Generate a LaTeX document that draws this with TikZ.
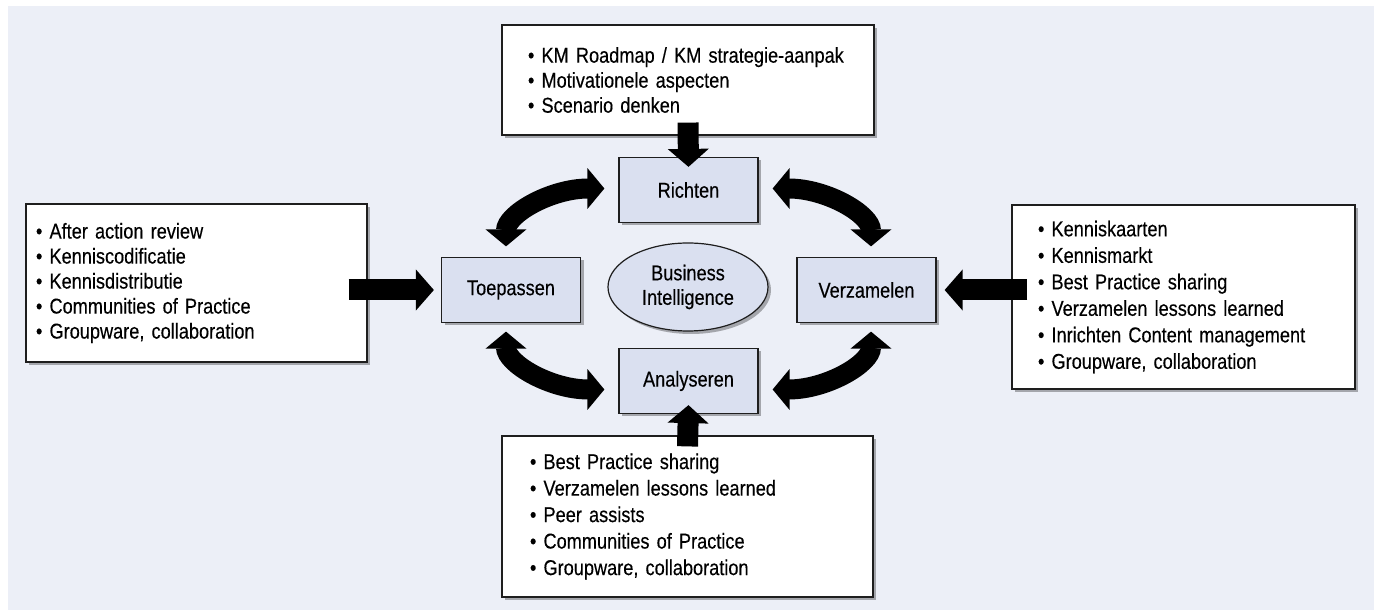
\documentclass[tikz,border=0pt]{standalone}
\usepackage{fontspec}
\setmainfont{Liberation Sans}[FakeStretch=0.845,FakeBold=0.3]
\usetikzlibrary{arrows.meta,shadows,shapes.geometric,calc}

\definecolor{bgblue}{RGB}{236,239,247}
\definecolor{phasefill}{RGB}{218,224,240}
\definecolor{linegray}{RGB}{30,30,30}

\tikzset{
  boxshadow/.style={drop shadow={shadow xshift=3pt,shadow yshift=-3pt,opacity=0.3,fill=black}},
  phase/.style={draw=linegray,line width=1.2pt,fill=phasefill,boxshadow,
    minimum width=139pt,minimum height=65pt,inner sep=0pt,
    font=\fontsize{21.5}{24}\selectfont},
  listbox/.style={draw=linegray,line width=1.2pt,fill=white,boxshadow,
    align=left,inner ysep=0pt},
  fat/.style={line width=21pt,draw=black,-{Triangle[width=40pt 0 0,length=18pt 0 0]}},
  cyclearrow/.style={line width=20pt,draw=black,
    >={Triangle[width=40pt 0 0,length=17pt 0 0]},<->},
}

\begin{document}
\begin{tikzpicture}[x=1pt,y=1pt]
\useasboundingbox (0,0) rectangle (1374,610);
\fill[bgblue] (8,0) rectangle (1374,604);

% the four phases and the centre
\node[phase] (rich) at (688.5,420) {Richten};
\node[phase] (toep) at (511,320) {Toepassen};
\node[phase] (verz) at (866.5,320) {Verzamelen};
\node[phase] (anal) at (688.5,229) {Analyseren};
\node[ellipse,draw=linegray,line width=1.2pt,fill=phasefill,boxshadow,
      minimum width=160pt,minimum height=88pt,inner sep=0pt,align=center,
      font=\fontsize{21.5}{24.5}\selectfont] (bi) at (688,323) {Business\\Intelligence};

% instrument lists
\node[listbox,text width=320pt,inner xsep=26pt,minimum height=110pt,
      font=\fontsize{21.5}{25}\selectfont] (kmtop) at (688,530)
  {• KM Roadmap / KM strategie-aanpak\\• Motivationele aspecten\\• Scenario denken};
\node[listbox,text width=321pt,inner xsep=10pt,minimum height=158pt,
      font=\fontsize{21.5}{25}\selectfont] (left) at (196.5,327)
  {• After action review\\• Kenniscodificatie\\• Kennisdistributie\\• Communities of Practice\\• Groupware, collaboration};
\node[listbox,text width=291pt,inner xsep=26pt,minimum height=184pt,
      font=\fontsize{21.5}{26.5}\selectfont] (right) at (1183.5,313)
  {• Kenniskaarten\\• Kennismarkt\\• Best Practice sharing\\• Verzamelen lessons learned\\• Inrichten Content management\\• Groupware, collaboration};
\node[listbox,text width=315pt,inner xsep=28pt,minimum height=161pt,
      font=\fontsize{21.5}{26.5}\selectfont] (bot) at (687.5,93.5)
  {• Best Practice sharing\\• Verzamelen lessons learned\\• Peer assists\\• Communities of Practice\\• Groupware, collaboration};

% cycle arrows between the phases
\draw[cyclearrow] ($(toep.north)+(-5,10.5)$) .. controls +(0,32) and +(-54,0) .. ($(rich.west)+(-14,1.5)$);
\draw[cyclearrow] ($(rich.east)+(14,1.5)$) .. controls +(54,0) and +(0,32) .. ($(verz.north)+(4.5,10.5)$);
\draw[cyclearrow] ($(toep.south)+(-5,-8.5)$) .. controls +(0,-32) and +(-54,0) .. ($(anal.west)+(-14,-8.5)$);
\draw[cyclearrow] ($(verz.south)+(4.5,-8.5)$) .. controls +(0,-32) and +(54,0) .. ($(anal.east)+(14,-8.5)$);

% inputs from the lists
\draw[fat] ([yshift=13pt]kmtop.south) -- ([yshift=-10pt]rich.north);
\draw[fat] ($(toep.west -| left.east)+(-19,0)$) -- ([xshift=-7pt]toep.west);
\draw[fat] ($(verz.east -| right.west)+(16,0)$) -- ([xshift=8pt]verz.east);
\draw[fat] ([yshift=-11pt]bot.north) -- ([yshift=9pt]anal.south);
\end{tikzpicture}
\end{document}
